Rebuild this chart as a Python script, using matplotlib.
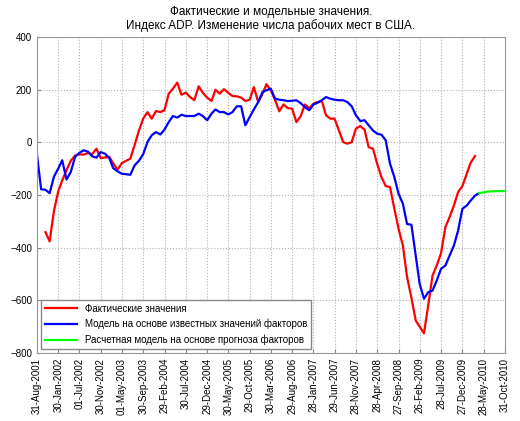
import numpy as np
import pandas as pd
import matplotlib
matplotlib.use("Agg")
import matplotlib.pyplot as plt
import matplotlib.dates as mdates

# ------------------------------------------------------------
# Данные (помесячно, конец месяца)
# ------------------------------------------------------------
start_fact = "2001-10-31"
fact = [-341, -376, -260, -185, -145, -105, -70, -50, -45, -47,
        -40, -45, -24, -60, -57, -55, -80, -104, -79, -70,
        -62, -10, 45, 90, 115, 90, 119, 115, 122, 185,
        204, 227, 181, 189, 172, 160, 213, 188, 170, 157,
        200, 185, 202, 188, 176, 175, 170, 157, 162, 210,
        153, 185, 221, 198, 162, 118, 144, 130, 128, 77,
        99, 144, 130, 147, 153, 157, 103, 90, 90, 46,
        1, -5, 1, 52, 62, 48, -18, -24, -81, -132,
        -166, -170, -252, -328, -392, -512, -590, -677, -700, -725,
        -620, -506, -468, -421, -322, -284, -240, -189, -166, -119,
        -77, -52]

start_model = "2001-08-31"
model = [-45, -178, -180, -193, -130, -99, -68, -141, -113, -55,
         -40, -30, -35, -53, -58, -37, -43, -60, -98, -110,
         -119, -121, -123, -87, -70, -45, 1, 27, 39, 30,
         48, 77, 100, 94, 105, 100, 100, 100, 109, 100,
         84, 109, 125, 115, 115, 106, 115, 137, 137, 65,
         96, 125, 153, 191, 198, 204, 166, 162, 160, 157,
         158, 160, 149, 134, 122, 144, 150, 160, 172, 166,
         162, 160, 160, 153, 137, 103, 81, 84, 65, 45,
         33, 29, 8, -81, -132, -195, -233, -310, -313, -430,
         -537, -594, -569, -563, -525, -480, -468, -430, -392, -335,
         -252, -240, -221, -202, -193]

start_prog = "2010-04-30"
prog = [-193, -190, -187, -186, -185, -185, -185]

labels = ["Фактические значения",
          "Модель на основе известных значений факторов",
          "Расчетная модель на основе прогноза факторов"]

tick_labels = ["31-Aug-2001", "30-Jan-2002", "01-Jul-2002", "30-Nov-2002",
               "01-May-2003", "30-Sep-2003", "29-Feb-2004", "30-Jul-2004",
               "29-Dec-2004", "30-May-2005", "29-Oct-2005", "30-Mar-2006",
               "29-Aug-2006", "28-Jan-2007", "29-Jun-2007", "28-Nov-2007",
               "28-Apr-2008", "27-Sep-2008", "26-Feb-2009", "28-Jul-2009",
               "27-Dec-2009", "28-May-2010", "31-Oct-2010"]

d_fact = pd.date_range(start_fact, periods=len(fact), freq="ME")
d_model = pd.date_range(start_model, periods=len(model), freq="ME")
d_prog = pd.date_range(start_prog, periods=len(prog), freq="ME")

# ------------------------------------------------------------
# График
# ------------------------------------------------------------
plt.rcParams["font.family"] = ["Liberation Sans", "DejaVu Sans"]

fig = plt.figure(figsize=(5.2, 4.21), dpi=100)
ax = fig.add_axes([0.071, 0.1615, 0.900, 0.7505])

ax.plot(d_fact, fact, color="#ff0000", lw=1.6, label=labels[0])
ax.plot(d_model, model, color="#0000ff", lw=1.6, label=labels[1])
ax.plot(d_prog, prog, color="#00ff00", lw=1.6, label=labels[2])

x0 = mdates.date2num(pd.Timestamp("2001-08-31"))
x1 = mdates.date2num(pd.Timestamp("2010-10-31"))
ax.set_xlim(x0, x1)
ax.set_ylim(-800, 400)
ax.set_xticks(np.linspace(x0, x1, len(tick_labels)))
ax.set_xticklabels(tick_labels, rotation=90)
ax.set_yticks(np.arange(-800, 401, 200))

ax.tick_params(direction="in", labelsize=7, length=3, color="#888888")
ax.grid(True, linestyle=":", color="#b0b0b0", lw=0.8)
for s in ax.spines.values():
    s.set_color("#999999")

ax.set_title("Фактические и модельные значения.\n"
             "Индекс ADP. Изменение числа рабочих мест в США.",
             fontsize=8.5, linespacing=1.1, pad=6)

leg = ax.legend(loc="lower left", fontsize=7, handlelength=3.3,
                fancybox=False, framealpha=1, borderaxespad=0.4,
                labelspacing=0.55, edgecolor="#888888")

plt.savefig("out.png", dpi=100)
